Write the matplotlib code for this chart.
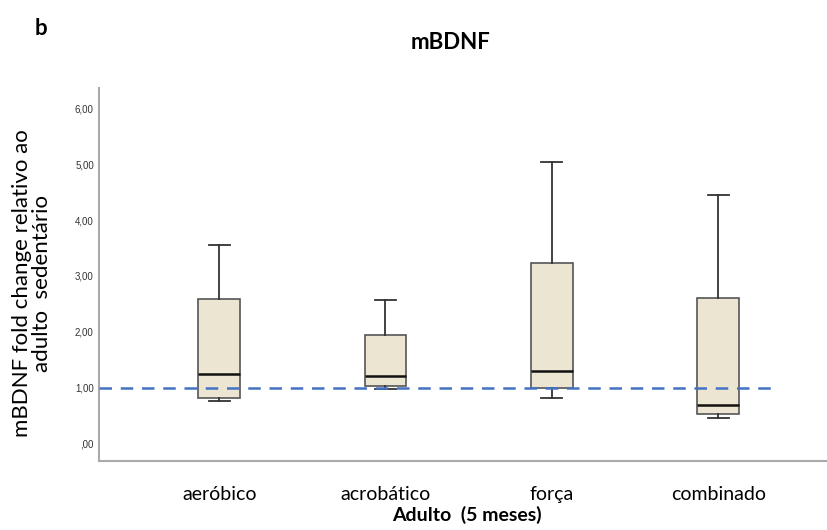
import matplotlib
matplotlib.use("Agg")
from matplotlib import pyplot as plt

groups = ["aeróbico", "acrobático", "força", "combinado"]
whis_low = [0.75, 0.97, 0.81, 0.45]
q1 = [0.81, 1.03, 0.99, 0.53]
median = [1.24, 1.21, 1.30, 0.68]
q3 = [2.58, 1.94, 3.24, 2.60]
whis_high = [3.55, 2.57, 5.05, 4.46]
ref_level = 1.0
yticks = [0, 1, 2, 3, 4, 5, 6]
ytick_labels = [",00", "1,00", "2,00", "3,00", "4,00", "5,00", "6,00"]

fig = plt.figure(figsize=(8.28, 5.3), dpi=100)
ax = fig.add_axes([0.12, 0.131, 0.88, 0.703])

stats = []
for i, g in enumerate(groups):
    stats.append(dict(label=g, whislo=whis_low[i], q1=q1[i], med=median[i],
                      q3=q3[i], whishi=whis_high[i], fliers=[]))

ax.bxp(stats, positions=range(len(groups)), widths=0.25, patch_artist=True,
       showfliers=False,
       boxprops=dict(facecolor="#ece5d1", edgecolor="#555555", linewidth=1.2),
       medianprops=dict(color="#111111", linewidth=1.8),
       whiskerprops=dict(color="#333333", linewidth=1.3),
       capprops=dict(color="#333333", linewidth=1.3),
       capwidths=0.125, zorder=2)

ax.set_xlim(-0.72, 3.66)
ax.set_ylim(-0.31, 6.37)
ax.plot([-0.72, 3.36], [ref_level, ref_level], color="#4472c4", lw=1.8,
        dashes=(5, 3.5), zorder=3)

ax.set_yticks(yticks)
ax.set_yticklabels(ytick_labels, fontsize=7, color="#333333", family="Liberation Sans")
ax.set_xticks(range(len(groups)))
ax.set_xticklabels(groups, fontsize=14, family="Lato")
ax.tick_params(length=0)
ax.tick_params(axis="x", pad=18)
ax.tick_params(axis="y", pad=4)

for s in ["top", "right"]:
    ax.spines[s].set_visible(False)
for s in ["left", "bottom"]:
    ax.spines[s].set_color("#aaaaaa")
    ax.spines[s].set_linewidth(1.5)

ax.set_xlabel("Adulto  (5 meses)", fontsize=14, fontweight="bold", family="Lato")
ax.xaxis.set_label_coords(0.505, -0.122)
ax.set_ylabel("mBDNF fold change relativo ao\nadulto  sedentário", fontsize=16,
              family="Lato", linespacing=1.0)
ax.yaxis.set_label_coords(-0.065, 0.475)

fig.text(0.544, 0.92, "mBDNF", fontsize=16, fontweight="bold", family="Lato",
         ha="center", va="center")
fig.text(0.05, 0.947, "b", fontsize=16, fontweight="bold", family="Lato",
         ha="center", va="center")

fig.savefig("out.png", dpi=100)
